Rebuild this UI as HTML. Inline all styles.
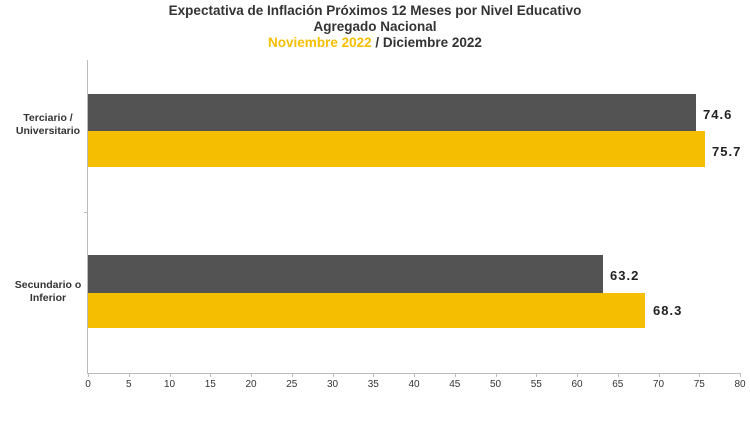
<!DOCTYPE html>
<html><head><style>
body{margin:0;width:750px;height:435px;background:#fff;font-family:"Liberation Sans",sans-serif;position:relative;overflow:hidden}
.t{position:absolute;left:0;width:750px;text-align:center;font-weight:bold;font-size:13.5px;color:#333}
.b{position:absolute;left:88px}
.d{background:#535353}
.y{background:#F6BE00}
.v{position:absolute;font-weight:bold;font-size:13px;color:#222;letter-spacing:1px}
.c{position:absolute;width:84px;left:6px;text-align:center;font-size:10.5px;font-weight:bold;color:#333;line-height:13px}
.tk{position:absolute;top:379px;font-size:10px;color:#333;width:30px;text-align:center}
</style></head><body>
<div class="t" style="top:3px">Expectativa de Inflación Próximos 12 Meses por Nivel Educativo</div>
<div class="t" style="top:19px">Agregado Nacional</div>
<div class="t" style="top:35px"><span style="color:#F6BE00">Noviembre 2022</span> / Diciembre 2022</div>
<div style="position:absolute;left:87px;top:60px;width:1px;height:314px;background:#bbb"></div>
<div style="position:absolute;left:87px;top:373px;width:653px;height:1px;background:#bbb"></div>
<div style="position:absolute;left:84px;top:212px;width:4px;height:1px;background:#bbb"></div>
<div class="b d" style="top:94px;height:37px;width:608px"></div>
<div class="b y" style="top:131px;height:36px;width:617px"></div>
<div class="b d" style="top:255px;height:38px;width:515px"></div>
<div class="b y" style="top:293px;height:35px;width:557px"></div>
<div class="v" style="left:703px;top:107px">74.6</div>
<div class="v" style="left:712px;top:144px">75.7</div>
<div class="v" style="left:610px;top:268px">63.2</div>
<div class="v" style="left:653px;top:303px">68.3</div>
<div class="c" style="top:112px">Terciario /<br>Universitario</div>
<div class="c" style="top:279px">Secundario o<br>Inferior</div>
<div id="ticks"></div>
<script>
var h='';for(var i=0;i<=80;i+=5){var x=88+i*8.15;h+='<div class="tk" style="left:'+(x-15)+'px">'+i+'</div><div style="position:absolute;left:'+Math.round(x)+'px;top:373px;width:1px;height:4px;background:#bbb"></div>';}
document.getElementById('ticks').innerHTML=h;
</script>
</body></html>
